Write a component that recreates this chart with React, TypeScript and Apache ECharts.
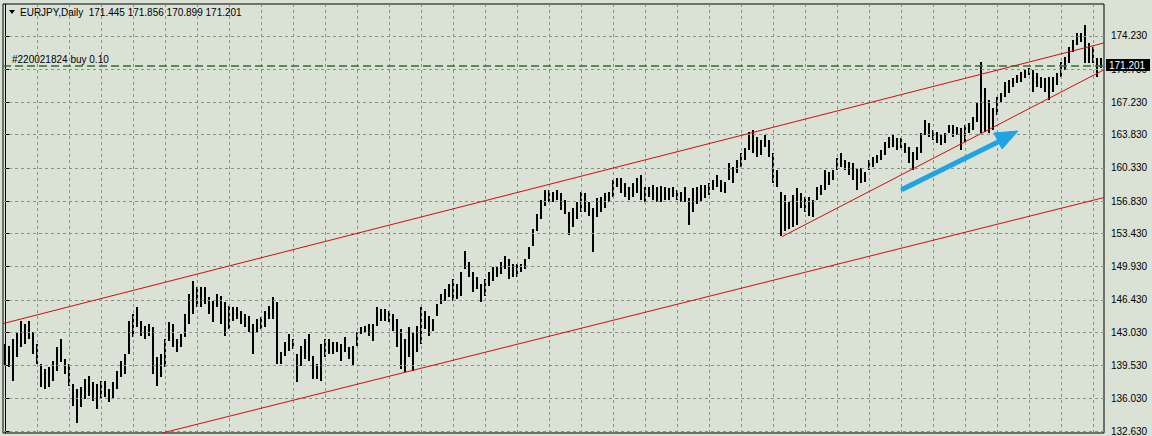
import React, { useEffect, useRef } from "react";
import * as echarts from "echarts";

// ---- data ----
const symbolTitle = "EURJPY,Daily";
const lastOHLC = [171.445, 171.856, 170.899, 171.201];
const orderLabel = "#220021824 buy 0.10";
const orderPrice = 171.12;
const currentPrice = 171.201;

const yTicks = [174.23, 170.73, 167.23, 163.83, 160.33, 156.83, 153.43, 149.93, 146.43, 143.03, 139.53, 136.03, 132.63];
const yMin = 132.42;
const yMax = 177.59;
const xMin = -0.5;
const xMax = 274.75;
const vGridBars = [8, 16, 24, 32, 40, 48, 56, 64, 72, 80, 88, 96, 104, 112, 120, 128, 136, 144, 152, 160, 168, 176, 184, 192, 200, 208, 216, 224, 232, 240, 248, 256, 264, 272];

const highs = [
  141.77, 141.56, 142.30, 143.03, 144.19, 143.87, 144.19, 143.03, 141.77, 139.67,
  139.14, 139.35, 139.98, 141.46, 142.30, 140.19, 139.67, 137.57, 137.04, 137.25,
  138.09, 138.41, 137.78, 137.57, 137.88, 137.88, 137.04, 137.78, 138.93, 139.98,
  140.72, 144.19, 144.92, 145.66, 144.19, 143.66, 143.87, 143.56, 140.40, 140.72,
  142.30, 144.08, 143.87, 142.30, 142.82, 144.92, 147.02, 148.39, 147.76, 147.76,
  147.76, 146.71, 146.29, 147.02, 146.81, 146.18, 145.76, 145.66, 145.66, 145.24,
  144.92, 144.71, 143.87, 144.40, 144.61, 145.24, 145.76, 146.71, 146.18, 140.93,
  141.98, 142.82, 142.30, 140.72, 141.56, 142.30, 142.82, 140.51, 139.67, 141.77,
  142.30, 142.30, 141.98, 141.98, 141.77, 142.51, 141.46, 141.56, 143.03, 143.56,
  143.66, 143.87, 143.87, 145.66, 145.45, 145.45, 145.24, 144.92, 144.40, 143.35,
  142.30, 143.56, 143.03, 143.66, 145.66, 145.24, 144.71, 144.40, 145.97, 147.02,
  147.55, 148.07, 148.60, 148.07, 149.33, 151.54, 150.38, 149.33, 148.80, 148.07,
  148.60, 149.33, 149.85, 149.96, 150.38, 151.01, 150.70, 150.17, 150.17, 150.17,
  150.70, 151.96, 153.85, 155.43, 157.00, 158.05, 158.05, 157.84, 158.05, 157.74,
  157.00, 155.64, 156.16, 156.69, 157.84, 157.74, 156.69, 156.16, 157.21, 157.32,
  157.74, 157.84, 159.10, 159.31, 159.31, 158.79, 158.37, 158.79, 159.31, 159.63,
  158.37, 158.37, 158.58, 158.37, 158.47, 158.37, 158.26, 158.37, 158.05, 157.84,
  158.37, 157.21, 158.26, 158.37, 158.58, 158.58, 158.79, 159.10, 159.63, 159.10,
  158.89, 160.89, 160.47, 161.20, 161.94, 162.46, 164.14, 164.35, 163.62, 163.30,
  163.83, 163.30, 161.94, 160.15, 157.84, 157.53, 156.69, 157.53, 158.26, 157.74,
  157.32, 157.32, 157.00, 158.37, 158.58, 160.15, 159.94, 160.15, 161.41, 161.94,
  161.20, 160.99, 160.89, 160.36, 160.36, 159.94, 161.20, 161.52, 161.73, 162.25,
  163.09, 163.62, 163.83, 163.51, 163.51, 162.99, 162.57, 162.04, 162.57, 164.04,
  165.40, 165.09, 164.35, 164.14, 163.83, 164.04, 164.88, 164.88, 164.67, 164.56,
  164.88, 165.09, 165.72, 167.29, 171.50, 168.77, 167.51, 166.66, 167.82, 168.24,
  169.40, 169.61, 169.82, 170.13, 170.45, 170.65, 170.87, 170.65, 170.34, 169.92,
  169.82, 169.92, 169.92, 170.34, 171.50, 172.02, 173.07, 173.81, 174.54, 174.54,
  175.38, 173.49, 173.07, 171.92, 171.856,
];

const lows = [
  139.46, 139.35, 137.88, 140.40, 141.46, 141.77, 142.30, 140.72, 139.67, 137.25,
  137.04, 137.25, 137.88, 138.93, 139.88, 138.62, 137.36, 135.26, 133.47, 135.15,
  135.99, 136.30, 135.78, 134.94, 135.99, 136.20, 135.68, 135.99, 137.04, 138.30,
  138.62, 140.72, 142.51, 143.56, 142.61, 142.30, 142.61, 138.62, 137.36, 138.30,
  139.35, 142.09, 141.46, 140.93, 141.46, 142.51, 143.87, 144.92, 145.66, 145.66,
  145.97, 144.92, 144.08, 145.66, 143.87, 142.61, 143.35, 144.19, 144.40, 143.87,
  143.56, 143.03, 140.72, 143.03, 143.35, 143.56, 144.40, 144.40, 139.67, 139.67,
  140.51, 141.03, 141.24, 137.78, 139.46, 140.19, 139.98, 138.09, 138.09, 137.88,
  140.40, 140.72, 140.72, 140.93, 139.98, 140.93, 140.19, 139.46, 141.56, 142.82,
  143.03, 142.61, 142.09, 143.66, 144.19, 144.19, 144.08, 143.14, 141.46, 139.14,
  138.83, 140.40, 138.93, 140.93, 141.77, 143.35, 142.61, 143.14, 144.71, 145.97,
  146.29, 146.71, 146.29, 146.50, 146.81, 149.65, 148.80, 147.23, 147.55, 146.18,
  146.81, 147.86, 148.39, 148.80, 149.12, 149.65, 148.60, 148.80, 148.80, 149.33,
  149.65, 150.70, 152.06, 153.64, 154.90, 156.27, 156.79, 156.69, 157.00, 155.95,
  155.43, 153.32, 154.16, 154.90, 155.64, 155.74, 155.22, 151.43, 155.11, 155.64,
  156.16, 156.69, 157.32, 158.37, 157.74, 157.32, 157.00, 157.32, 157.74, 157.00,
  156.79, 157.32, 157.00, 156.69, 156.79, 157.00, 157.00, 157.32, 157.00, 156.69,
  156.79, 154.37, 155.74, 156.48, 156.79, 157.21, 157.53, 158.05, 158.37, 157.84,
  157.74, 159.10, 158.79, 159.84, 160.47, 161.20, 162.25, 161.94, 161.52, 161.73,
  162.57, 161.52, 158.79, 158.37, 153.11, 153.64, 153.85, 154.16, 154.37, 156.16,
  155.64, 155.22, 155.11, 157.00, 157.53, 158.05, 158.58, 159.10, 160.15, 160.47,
  160.15, 159.63, 159.10, 158.05, 158.79, 158.89, 160.15, 160.47, 160.89, 161.20,
  161.73, 162.46, 162.57, 162.25, 162.46, 161.94, 160.89, 160.15, 161.20, 161.94,
  163.83, 163.62, 163.30, 162.99, 162.78, 162.99, 164.04, 163.62, 163.83, 162.25,
  163.09, 164.04, 164.35, 165.19, 164.04, 164.14, 164.04, 164.35, 165.93, 167.29,
  167.82, 168.24, 168.87, 169.29, 169.40, 169.82, 170.13, 168.34, 168.87, 168.77,
  168.34, 167.51, 168.34, 169.08, 169.92, 170.65, 171.39, 172.55, 173.28, 173.60,
  171.39, 171.39, 171.39, 169.92, 170.899,
];

// trend lines: [barIndex, price] start / end
const upperChannel = [[-0.5, 143.94], [274.75, 173.49]];
const lowerChannel = [[39.3, 132.42], [274.75, 157.21]];
const wedgeLine = [[194.2, 153.08], [274.75, 170.66]];

const BG = "#dae2d6";

export default function App() {
  const ref = useRef<HTMLDivElement>(null);

  useEffect(() => {
    document.body.style.margin = "0";
    document.body.style.background = BG;
    const chart = echarts.init(ref.current!, null, { renderer: "svg" });
    const barData = highs.map((h, i) => [i, lows[i], h]);
    const gridDash = { color: "#8a8e88", type: [3, 3] as any, width: 1 };
    const trendStyle = { color: "#cc1010", width: 1, type: "solid" as any };

    chart.setOption({
      animation: false,
      backgroundColor: BG,
      grid: { left: 3, right: 48, top: 4, bottom: 2, show: true, borderColor: "#000", borderWidth: 1, backgroundColor: BG },
      xAxis: {
        type: "value", min: xMin, max: xMax,
        axisLine: { show: false }, axisTick: { show: false }, axisLabel: { show: false }, splitLine: { show: false },
      },
      yAxis: {
        type: "value", position: "right", min: yMin, max: yMax,
        axisLine: { show: true, lineStyle: { color: "#000", width: 1 } },
        axisTick: { show: true, inside: false, length: 4, customValues: yTicks, lineStyle: { color: "#000" } },
        axisLabel: {
          show: true, customValues: yTicks, margin: 7, color: "#000",
          fontFamily: "Liberation Sans", fontSize: 10,
          formatter: (v: number) => v.toFixed(3),
        },
        splitLine: { show: false },
      },
      series: [
        {
          type: "line", data: [], z: 1, silent: true,
          markLine: {
            silent: true, symbol: "none", animation: false,
            label: { show: false }, emphasis: { disabled: true },
            lineStyle: gridDash,
            data: [
              ...yTicks.map((v) => ({ yAxis: v })),
              ...vGridBars.map((v) => ({ xAxis: v })),
            ],
          },
        },
        {
          type: "custom", z: 3, clip: true,
          data: barData,
          encode: { x: 0, y: [1, 2] },
          renderItem: (params: any, api: any) => {
            const i = api.value(0);
            const lo = api.coord([i, api.value(1)]);
            const hi = api.coord([i, api.value(2)]);
            const x = Math.round(lo[0]);
            return {
              type: "line",
              shape: { x1: x, y1: Math.round(hi[1]), x2: x, y2: Math.round(lo[1]) },
              style: { stroke: "#000", lineWidth: 2 },
            };
          },
        },
        {
          type: "line", data: [], z: 4, silent: true,
          markLine: {
            silent: true, symbol: "none", animation: false,
            label: { show: false }, emphasis: { disabled: true },
            data: [
              [{ coord: upperChannel[0], lineStyle: trendStyle }, { coord: upperChannel[1] }],
              [{ coord: lowerChannel[0], lineStyle: trendStyle }, { coord: lowerChannel[1] }],
              [{ coord: wedgeLine[0], lineStyle: trendStyle }, { coord: wedgeLine[1] }],
              { yAxis: orderPrice, lineStyle: { color: "#2f6f2f", width: 1.5, type: [8, 4] } },
            ],
          },
        },
      ],
    });

    const yCur = chart.convertToPixel({ yAxisIndex: 0 }, currentPrice) as number;
    const yOrd = chart.convertToPixel({ yAxisIndex: 0 }, orderPrice) as number;
    const [o, h, l, c] = lastOHLC;

    chart.setOption({
      graphic: {
        elements: [
          { type: "polygon", z: 100, shape: { points: [[9, 10], [15, 10], [12, 14]] }, style: { fill: "#000" } },
          {
            type: "text", z: 100, x: 20, y: 12,
            style: {
              text: `${symbolTitle}  ${o.toFixed(3)} ${h.toFixed(3)} ${l.toFixed(3)} ${c.toFixed(3)}`,
              fill: "#000", font: "10px 'Liberation Sans'", verticalAlign: "middle",
            },
          },
          {
            type: "text", z: 100, x: 12, y: yOrd - 6,
            style: { text: orderLabel, fill: "#000", font: "10px 'Liberation Sans'", verticalAlign: "middle" },
          },
          { type: "rect", z: 100, shape: { x: 1106, y: Math.round(yCur) - 6, width: 44, height: 12 }, style: { fill: "#000" } },
          {
            type: "text", z: 101, x: 1109, y: Math.round(yCur),
            style: { text: currentPrice.toFixed(3), fill: "#fff", font: "10px 'Liberation Sans'", verticalAlign: "middle" },
          },
          {
            type: "line", z: 100,
            shape: { x1: 903, y1: 189, x2: 1000, y2: 141 },
            style: { stroke: "#1fa3e3", lineWidth: 5, lineCap: "round" },
          },
          {
            type: "polygon", z: 100,
            shape: { points: [[1018, 131], [994, 133], [1002, 149]] },
            style: { fill: "#1fa3e3", stroke: "#1fa3e3", lineWidth: 1, lineJoin: "round" },
          },
        ],
      },
    });

    return () => chart.dispose();
  }, []);

  return (
    <div
      ref={ref}
      style={{ position: "fixed", left: 0, top: 0, width: 1152, height: 436, background: BG }}
    />
  );
}
